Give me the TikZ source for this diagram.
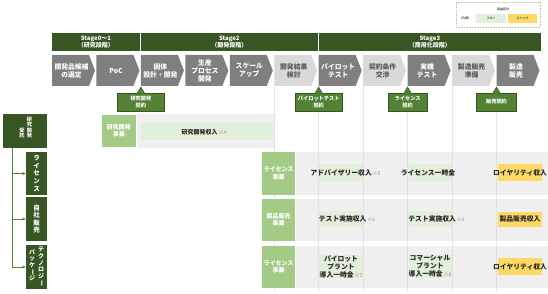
\documentclass[tikz,border=0pt]{standalone}
\usepackage{fontspec}
\setmainfont{Noto Sans CJK JP}
\usetikzlibrary{arrows.meta}
\definecolor{dkgreen}{HTML}{375623}
\definecolor{mdgreen}{HTML}{548235}
\definecolor{ltgreen}{HTML}{A3CB85}
\definecolor{flowgreen}{HTML}{E2EFDA}
\definecolor{stockyellow}{HTML}{FFD966}
\definecolor{dkgray}{HTML}{7F7F7F}
\definecolor{ltgray}{HTML}{D9D9D9}
\definecolor{bandgray}{HTML}{F0F0F0}
\definecolor{txtgray}{HTML}{595959}
\definecolor{revtext}{HTML}{262626}
\definecolor{notegray}{HTML}{8C8C8C}
\definecolor{lineg}{HTML}{D0D0D0}
\definecolor{legendline}{HTML}{B8CCA8}
\newcommand\revnote[1]{{\fontsize{5}{6}\selectfont\mdseries\color{notegray}\,※#1}}
\newcommand\vbar{\rotatebox[origin=c]{-90}{ー}}
\newcommand\mychev[4]{%
  \fill[chev#3] (#1,55) -- ++(37,0) -- ++(6,15.5) -- ++(-6,15.5) -- ++(-37,0) -- cycle;
  \node[chev#3text] (#2) at ({#1+19.5},70.5) {#4};}
\begin{document}
\begin{tikzpicture}[x=1pt,y=-1pt,
  every node/.style={inner sep=0pt,outer sep=0pt},
  hdr/.style={fill=dkgreen,text=white,font=\fontsize{6}{7.2}\selectfont\bfseries,align=center,minimum height=18pt},
  chevdark/.style={fill=dkgray},
  chevlight/.style={fill=ltgray},
  chevdarktext/.style={text=white,font=\fontsize{6.8}{8}\selectfont\bfseries,align=center},
  chevlighttext/.style={text=txtgray,font=\fontsize{6.8}{8}\selectfont\bfseries,align=center},
  callout/.style={fill=mdgreen,draw=dkgreen,line width=0.5pt,text=white,font=\fontsize{5.2}{6.4}\selectfont\bfseries,align=center,minimum height=18pt,anchor=north},
  calloutptr/.style={fill=mdgreen,draw=dkgreen,line width=0.5pt},
  bizbox/.style={fill=ltgreen,text=white,font=\fontsize{6}{7.4}\selectfont\bfseries,align=center,minimum width=33.5pt},
  leftbox/.style={fill=dkgreen,minimum width=21pt},
  vtext/.style={text=white,font=\fontsize{6.5}{7.6}\selectfont\bfseries,align=center},
  band/.style={fill=bandgray},
  flowbox/.style={fill=flowgreen},
  stockbox/.style={fill=stockyellow},
  rev/.style={text=revtext,font=\fontsize{6.8}{8}\selectfont\bfseries,align=center},
  vline/.style={draw=lineg,line width=0.6pt,dash pattern=on 1pt off 1pt},
  conn/.style={draw=mdgreen,line width=1pt},
  legtext/.style={text=txtgray,font=\fontsize{3}{3.6}\selectfont\bfseries}
]
\useasboundingbox (0,0) rectangle (548,294);

% legend
\node[draw=legendline,dash pattern=on 0.8pt off 0.8pt,line width=0.6pt,minimum width=84pt,minimum height=25pt] (legend) at (498,14.5) {};
\node[legtext] (legtitle) at (503,9) {収益区分};
\node[legtext] (legnote) at (465,18.5) {（凡例）};
\node[flowbox,minimum width=30pt,minimum height=9pt,legtext] (legflow) at (491,18.5) {フロー};
\node[stockbox,minimum width=29pt,minimum height=9pt,legtext] (legstock) at (522.5,18.5) {ストック};

% stage headers
\node[hdr,minimum width=87.9pt] (h1) at (95.95,42) {Stage0～1\\（研究段階）};
\node[hdr,minimum width=176.8pt] (h2) at (229.3,42) {Stage2\\（開発段階）};
\node[hdr,minimum width=222.3pt] (h3) at (429.85,42) {Stage3\\（商用化段階）};

% chevrons
\mychev{52}{p0}{dark}{開発品候補\\の選定}
\mychev{96.45}{p1}{dark}{PoC}
\mychev{140.9}{p2}{dark}{固体\\設計・開発}
\mychev{185.35}{p3}{dark}{生産\\プロセス\\開発}
\mychev{229.8}{p4}{dark}{スケール\\アップ}
\mychev{274.25}{p5}{light}{開発結果\\検討}
\mychev{318.7}{p6}{dark}{パイロット\\テスト}
\mychev{363.15}{p7}{light}{契約条件\\交渉}
\mychev{407.6}{p8}{dark}{実機\\テスト}
\mychev{452.05}{p9}{light}{製造販売\\準備}
\mychev{496.5}{p10}{dark}{製造\\販売}

% bands
\fill[band] (136.5,114) rectangle (275,147.5);
\fill[band] (296,152) rectangle (548,195);
\fill[band] (296,199) rectangle (548,240.5);
\fill[band] (296,246) rectangle (548,287.5);

% dotted column lines
\foreach \xx in {274.25,318.7,363.15,407.6,452.05,496.5}
  \draw[vline] (\xx,87) -- (\xx,292);

% callouts
\coordinate (c1tip) at (140.9,87);
\coordinate (c2tip) at (318.7,87);
\coordinate (c3tip) at (407.6,87);
\coordinate (c4tip) at (496.5,87);
\node[callout,minimum width=47pt] (c1) at (140.9,93) {研究開発\\契約};
\node[callout,minimum width=47pt] (c2) at (318.7,93) {パイロットテスト\\契約};
\node[callout,minimum width=39pt] (c3) at (407.6,93) {ライセンス\\契約};
\node[callout,minimum width=40pt] (c4) at (496.5,93) {販売契約};
\foreach \c in {c1,c2,c3,c4}
  \filldraw[calloutptr] ([xshift=-4pt,yshift=-0.7pt]\c.north) -- (\c tip) -- ([xshift=4pt,yshift=-0.7pt]\c.north);

% business boxes
\node[bizbox,minimum height=32pt] (b0) at (118.75,131) {研究開発\\事業};
\node[bizbox,minimum height=43pt] (b1) at (278.5,173.5) {ライセンス\\事業};
\node[bizbox,minimum height=41.5pt] (b2) at (278.5,219.75) {製品販売\\事業};
\node[bizbox,minimum height=41.5pt] (b3) at (278.5,266.75) {ライセンス\\事業};

% flow / stock boxes
\fill[flowbox] (140.5,123) rectangle (273,140);
\fill[flowbox] (319,164) rectangle (363,181);
\fill[flowbox] (409,164) rectangle (452,181);
\fill[stockbox] (498,164) rectangle (542,181);
\fill[flowbox] (319,211) rectangle (363,227);
\fill[flowbox] (409,211) rectangle (452,227);
\fill[stockbox] (498,211.5) rectangle (542,227);
\fill[flowbox] (319,255) rectangle (363,278);
\fill[flowbox] (409,255) rectangle (452,278);
\fill[stockbox] (498,258) rectangle (542,275);

% revenue texts
\node[rev,font=\fontsize{6}{7}\selectfont\bfseries] (t0) at (204,132) {研究開発収入\revnote{4}};
\node[rev] (t1) at (345.5,172.5) {アドバイザリー収入\revnote{5}};
\node[rev] (t2) at (428,172.5) {ライセンス一時金};
\node[rev] (t3) at (520,172.5) {ロイヤリティ収入};
\node[rev] (t4) at (347,219) {テスト実施収入\revnote{6}};
\node[rev] (t5) at (436.5,219) {テスト実施収入\revnote{6}};
\node[rev] (t6) at (520,219.25) {製品販売収入};
\node[rev] (t7) at (341,266.5) {パイロット\\プラント\\導入一時金\revnote{7}};
\node[rev] (t8) at (430,266.5) {コマーシャル\\プラント\\導入一時金\revnote{8}};
\node[rev] (t9) at (520,266.5) {ロイヤリティ収入};

% left side
\node[fill=dkgreen,minimum width=44pt,minimum height=34pt] (rd) at (25,131) {};
\node[vtext,font=\fontsize{5.2}{5.3}\selectfont\bfseries,anchor=south] (rdA) at (29.5,138) {研\\究\\開\\発};
\node[vtext,font=\fontsize{5.2}{5.3}\selectfont\bfseries,anchor=south] (rdB) at (22,138) {受\\託};

\node[leftbox,minimum height=43pt,vtext] (lic) at (36.5,173.5) {ラ\\イ\\セ\\ン\\ス};
\node[leftbox,minimum height=44pt,vtext] (own) at (36.5,219) {自\\社\\販\\売};
\node[leftbox,minimum height=44pt] (tech) at (36.5,267) {};
\node[vtext,font=\fontsize{6}{6.7}\selectfont\bfseries,anchor=north] (techA) at (41,247) {テ\\ク\\ノ\\ロ\\ジ\\\vbar};
\node[vtext,font=\fontsize{6}{6.7}\selectfont\bfseries,anchor=north] (techB) at (32,249) {パ\\ッ\\ケ\\\vbar\\ジ};

\coordinate (trunk) at (12,148);
\draw[conn] (rd.south -| trunk) -- (trunk |- tech.west);
\draw[conn,-{Latex[length=3.5pt,width=3.5pt]}] (trunk |- lic.west) -- (lic.west);
\draw[conn,-{Latex[length=3.5pt,width=3.5pt]}] (trunk |- own.west) -- (own.west);
\draw[conn,-{Latex[length=3.5pt,width=3.5pt]}] (trunk |- tech.west) -- (tech.west);
\end{tikzpicture}
\end{document}
